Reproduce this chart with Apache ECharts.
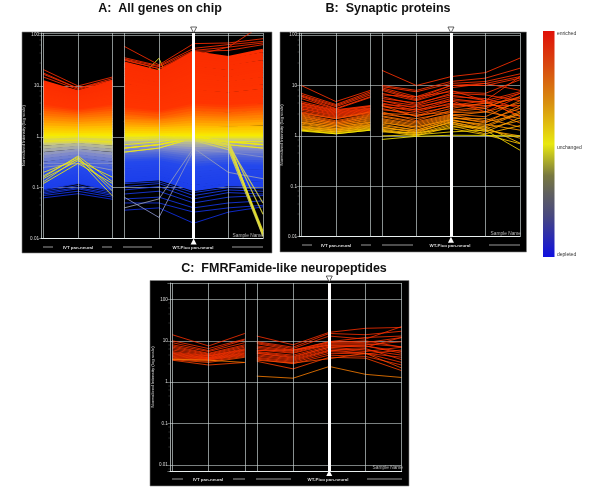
<!DOCTYPE html>
<html><head><meta charset="utf-8">
<style>html,body{margin:0;padding:0;background:#fff}#c{width:600px;height:499px}</style>
<script src="https://cdn.jsdelivr.net/npm/echarts@6/dist/echarts.min.js"></script>
</head><body><div id="c"></div>
<script>
// Sample order along the x axis; slot 6.5 is the break between the two sample groups
const sampleSlots = [0,3,6,7,10,13,16,19];
const markedSample = 13;
const breakSlot = 6.5;
const yTicks = [100,10,1,0.1,0.01];
const sampleGroups = ['IVT pan-neural','WT-Pico pan-neural'];
const yName = 'Normalized Intensity (log scale)';

// A: profiles that peak at one sample; only the peak shows above the band
const genesBehind = [
[1,1,1,7,35,0.95,1,1],[1,1,1,2,22,1.1,1,1]
];
// A: all genes on chip: dense band (one row = one representative expression profile)
const genesBand = [
[12,7.6,12,28,19,45,36,50],[11.6,7.4,11.4,26,17,40,32,43],[11.2,7.2,11,24,15.5,36,30,38],[10.8,7,10.6,21,14.5,32,27,35],
[10.4,6.8,10.2,19,13,29,24,30],[10,6.6,9.8,17,12.5,26,22,27],[9.6,6.4,9.4,15,11,23,19,25],[9.2,6.2,9,14,10.6,21,18,22],
[8.8,6,8.6,13,9.5,19,16,20],[8.4,5.8,8.3,12,8.9,17,14,18],[8,5.6,8,10.5,8.2,15,13,16],[7.7,5.4,7.6,9.5,7.4,13.5,11.5,14],
[7.3,5.2,7.3,8.8,6.8,12,10.5,12.5],[7,5,7,8,6.4,11,9.5,11.5],[6.7,4.8,6.6,7.5,5.8,10,8.8,10],[6.4,4.6,6.3,6.8,5.4,9,8,9.5],
[6.1,4.4,6,6.1,5,8,7,8.3],[5.8,4.2,5.8,5.5,4.6,7.2,6.5,7.4],[5.5,4,5.5,5.1,4.3,6.5,5.8,6.8],[5.2,3.8,5.2,4.6,3.9,5.8,5.2,6],
[4.8,3.6,4.8,4.2,3.6,5.2,4.7,5.4],[4.4,3.4,4.4,3.8,3.3,4.7,4.3,4.9],[4,3.2,4,3.5,3,4.2,3.9,4.3],[3.6,3,3.7,3.2,2.8,3.8,3.5,3.9],
[3.3,2.8,3.3,2.9,2.6,3.4,3.2,3.5],[3,2.6,3,2.6,2.3,3,2.8,3.1],[2.7,2.4,2.7,2.4,2.1,2.7,2.5,2.8],[2.4,2.2,2.4,2.1,2,2.4,2.3,2.5],
[2.2,2,2.2,2,1.85,2.2,2.1,2.2],[1.95,1.8,1.95,1.8,1.7,1.95,1.9,2],[1.75,1.65,1.75,1.64,1.55,1.75,1.7,1.8],[1.55,1.48,1.55,1.47,1.42,1.55,1.5,1.55],
[1.4,1.34,1.4,1.34,1.3,1.4,1.38,1.42],[1.25,1.22,1.25,1.22,1.19,1.25,1.23,1.26],[1.12,1.1,1.12,1.1,1.09,1.12,1.11,1.13],[1.03,1.02,1.03,1.03,1.02,1.03,1.03,1.03],
[0.96,0.97,0.96,0.97,0.97,0.96,0.96,0.96],[0.85,0.9,0.85,0.9,0.9,0.88,0.89,0.89],[0.72,0.8,0.72,0.83,0.84,0.8,0.82,0.81],[0.62,0.7,0.62,0.76,0.77,0.72,0.74,0.73],
[0.54,0.62,0.54,0.7,0.7,0.65,0.68,0.67],[0.46,0.54,0.46,0.63,0.64,0.58,0.61,0.6],[0.4,0.48,0.4,0.58,0.59,0.52,0.55,0.54],[0.35,0.42,0.35,0.53,0.54,0.47,0.5,0.49],
[0.3,0.37,0.3,0.48,0.5,0.42,0.45,0.44],[0.26,0.33,0.26,0.44,0.46,0.38,0.41,0.4],[0.23,0.3,0.23,0.4,0.42,0.34,0.37,0.36],[0.2,0.27,0.2,0.36,0.38,0.3,0.33,0.32],
[0.18,0.25,0.18,0.33,0.35,0.27,0.3,0.29],[0.165,0.23,0.165,0.3,0.32,0.24,0.27,0.26],[0.15,0.21,0.15,0.27,0.29,0.215,0.25,0.24],[0.14,0.2,0.14,0.25,0.26,0.19,0.22,0.21],
[0.13,0.18,0.13,0.22,0.24,0.17,0.2,0.19],[0.125,0.17,0.12,0.2,0.22,0.15,0.18,0.17],[0.12,0.16,0.11,0.19,0.2,0.135,0.16,0.15],[0.115,0.15,0.105,0.17,0.18,0.12,0.145,0.14],
[0.11,0.14,0.1,0.15,0.16,0.105,0.13,0.12],[0.1,0.13,0.095,0.135,0.15,0.092,0.115,0.11]
];
// A: sparse profiles at the edges of the band, and the ones that stand out from it
const genesSparse = [
[0.095,0.125,0.09,0.12,0.13,0.08,0.1,0.095],[0.09,0.12,0.085,0.105,0.12,0.07,0.09,0.085],[0.085,0.11,0.08,0.09,0.105,0.06,0.08,0.075],
[0.08,0.1,0.075,0.075,0.085,0.05,0.065,0.07],[0.075,0.095,0.07,0.06,0.065,0.04,0.05,0.055],[0.07,0.085,0.065,0.05,0.05,0.033,0.04,0.045],
[0.063,0.076,0.059,0.036,0.04,0.02,0.033,0.042],
[21,10,15,60,26,68,70,85],[18,9,14,36,25,55,65,75],[17,9,13,33,22,40,58,160],[15,8.5,13,34,24,50,58,70],[12,8,12,32,22,48,50,65],
[0.3,0.3,0.3,0.065,0.026,0.55,0.5,0.4],[0.25,0.3,0.22,0.04,0.06,0.6,0.2,0.15],
[0.16,0.42,0.13,0.5,0.6,0.95,0.7,0.6],[0.13,0.38,0.1,0.5,0.6,0.95,0.7,0.6],[0.17,0.4,0.085,0.6,0.7,0.95,0.8,0.7],
[0.2,0.36,0.068,0.6,0.7,0.95,0.8,0.7],[0.15,0.34,0.16,0.6,0.7,1,0.8,0.7],[0.12,0.3,0.12,0.7,0.8,1,0.8,0.8]
];
// A: the group that drops steeply at the last sample
const genesFan = [
[0.8,0.85,0.75,0.9,1,0.95,0.78,0.012],[0.85,0.88,0.8,0.92,1,0.9,0.85,0.011],[0.8,0.82,0.78,0.88,0.95,0.92,0.72,0.014],
[0.78,0.8,0.74,0.86,0.9,0.88,0.68,0.012],[0.82,0.84,0.8,0.9,0.95,0.94,0.62,0.013],[0.76,0.8,0.72,0.84,0.9,0.85,0.56,0.011],
[0.78,0.8,0.74,0.86,0.9,0.9,0.8,0.03],[0.76,0.8,0.72,0.84,0.9,0.86,0.7,0.05]
];
// B: synaptic proteins
const synapticRows = [
[10,4.8,8,20,10,15,18,35],[7,4.2,7.5,10,8,12,14,22],[6.5,4,7,9.5,7.5,11,12,17],[6.2,3.8,6.5,9,6,10,11,15],[6,3.5,6,8.5,5.5,10,10,14],
[5.5,3.4,5.8,8,5.2,9,11,8],[4.8,3.3,4,7,5,8,5,15],[4.5,3.2,3.9,6.5,6,7.5,7,13],[4.4,3.1,3.8,6,4.2,7,6.5,5],[4.2,3,3.6,5.5,4.5,6.5,5,7.5],
[4,2.9,3.5,5,4,6,5.5,3.5],[3.9,2.8,3.4,5,3.5,5.5,4.5,7],[3.7,2.7,3.3,4.5,3.2,5,4.8,2.5],[3.5,2.6,3.2,4.2,3.8,5,3,6],[3.4,2.5,3.1,4,3,4.5,3.5,7],
[3.2,2.4,3,3.8,3.3,4.2,4,4],[3,2.3,2.9,3.5,2.5,4,5,2.4],[2.9,2.2,2.8,3.3,2.8,3.8,4.4,5.5],[2.8,2.2,3,4,2.4,3.5,4.5,3],[2.7,2,2.7,3,2,3.2,3.8,6],
[2.6,1.9,2.6,2.8,2.6,3,3.5,1.8],[2.5,1.8,2.5,2.7,2.2,2.9,3,4.5],[2.4,1.8,2.4,2.5,1.9,2.7,2.4,5],[2.3,1.7,2.3,2.4,1.8,2.6,2,3.5],[2.2,1.7,2.2,2.2,1.7,2.5,3,2.2],
[2.1,1.6,2.1,2.1,1.6,2.4,1.8,4],[2,1.6,2,2,1.5,2.3,1.9,2.6],[1.9,1.5,1.9,1.9,1.4,2.2,2.2,1.5],[1.85,1.5,1.85,1.8,1.5,2.1,1.6,3],[1.8,1.4,1.8,1.7,1.3,2.1,1.5,2.8],
[1.7,1.4,1.7,1.6,1.3,2,1.7,1.3],[1.6,1.35,1.65,1.5,1.2,1.9,1.4,2],[1.55,1.3,1.6,1.5,1.15,1.9,1.3,1],[1.5,1.3,1.55,1.4,1.25,1.8,1.2,2.3],[1.45,1.25,1.5,1.35,1.1,1.7,1.35,0.9],
[1.4,1.2,1.45,1.3,1.05,1.6,1.1,1.6],[1.35,1.2,1.4,1.25,1,1.5,1.5,0.72],[1.3,1.15,1.35,1.2,1.15,1.4,1.05,0.7],[1.3,1.1,1.3,1,1.05,1.2,1.3,0.52],[1.25,1.1,1.3,0.85,0.98,1.03,1.02,1]
];
// C: FMRFamide-like neuropeptides
const fmrfRows = [
[14,7.5,15,13,8,16,20,21],[10,6.5,11,9.5,7,15,14,17],[9,5.8,10.5,9,6.5,13,11,22],[8,5.5,9,8.5,6,9.5,12,13],[7.5,5,8,7.5,5.8,9.5,9,12],
[7,4.8,7.5,7,5.5,9,10,7],[6.5,4.6,7,6.5,5.2,8.5,8.5,7.2],[6,4.4,6.5,6,5,8,7.5,5.5],[5.5,4.3,6.2,5.8,6,7.8,8,9.5],[5.2,4.2,6,5.5,4.5,7.5,7,12],
[5,4,5.8,5.3,4.2,7,7.5,5],[4.8,3.9,5.5,5,4,7,6,4.5],[4.6,3.8,5.2,5,3.8,6.5,5.5,7],[4.4,3.7,5,4.6,3.6,6,5,4],[4.2,3.6,4.8,4.3,3.4,5.8,6.5,3.5],
[4,3.5,4.6,4,3.2,5.5,5,3],[3.8,3.4,4.4,3.8,3,5,4.8,6],[3.6,3.2,4.2,3.6,2.8,4.5,4.2,2.6],[3.4,2.6,3,3.2,2.1,4,3.8,1.9],[3.5,3,4,3.4,2.9,3.7,5,2.2],
[3.6,3.4,3,1.4,1.25,2.4,1.55,1.3]
];
// Colour key
const keyColours = ['#e01008','#d84810','#d89010','#e8e810','#787840','#606060','#484880','#1010e0'];
const keyOffsets = [0,0.15,0.32,0.5,0.64,0.72,0.82,1];
const keyLabels = ['enriched','unchanged','depleted'];
// Line colour against value at the marked sample
const lineStopValues = [0.02,0.25,0.38,0.55,0.8,1,1.5,2.5,4.5,200];
const lineStopColours = ['#1030e8','#2448ec','#5068d8','#8890c8','#c8c880','#f6ee00','#ffc000','#ff7a00','#ff3400','#f82800'];

function lineColour(v){
  const i = lineStopValues.findIndex(s => v <= s);
  if (i <= 0) return lineStopColours[0];
  const a = Math.log(lineStopValues[i-1]), b = Math.log(lineStopValues[i]);
  return echarts.color.lerp((Math.log(v)-a)/(b-a), [lineStopColours[i-1], lineStopColours[i]]);
}
const MARK_INDEX = sampleSlots.indexOf(markedSample);

const panels = [
 {title:'A:  All genes on chip', titleX:160, titleY:2, box:[22,32,250,221], grid:[41,33,222,205.5], ymin:0.01, ymax:110, nameGap:15,
  sets:[{rows:genesBehind,width:0.9,opacity:1},{rows:genesBand,width:3.4,opacity:1},{rows:genesSparse,width:0.9,opacity:0.95},{rows:genesFan,width:1.2,opacity:0.85}],
  labelY:248, tipOff:[-3,3], brackets:[[43,53],[102,112],[123,152],[232,263]], groupX:[78,193], sampleName:[263,235.5]},
 {title:'B:  Synaptic proteins', titleX:388, titleY:2, box:[280,32,246.5,220], grid:[299,33,221,203.7], ymin:0.01, ymax:110, nameGap:15,
  sets:[{rows:synapticRows,width:1,opacity:0.85}],
  labelY:246, tipOff:[-3,3], brackets:[[302,312],[361,371],[382,413],[489,520]], groupX:[336,450], sampleName:[521,234]},
 {title:'C:  FMRFamide-like neuropeptides', titleX:284, titleY:262, box:[150,280.5,259,205.5], grid:[169.9,283,231.8,188], ymin:0.0072, ymax:248, nameGap:14,
  sets:[{rows:fmrfRows,width:1,opacity:0.8}],
  labelY:480, tipOff:[-4,2], brackets:[[172,183],[233,245],[256,291],[367,402]], groupX:[208,328], sampleName:[403,468]}
];

const grey = 'rgba(205,215,215,0.75)';
const grids=[],xAxes=[],yAxes=[],series=[],graphics=[],titles=[];
panels.forEach((p,g)=>{
  titles.push({text:p.title,left:p.titleX,top:p.titleY,textAlign:'center',padding:0,
    textStyle:{fontFamily:'"Liberation Sans"',fontWeight:'bold',fontSize:12.5,color:'#111'}});
  graphics.push({type:'rect',z:-10,shape:{x:p.box[0],y:p.box[1],width:p.box[2],height:p.box[3]},
    style:{fill:'#000',stroke:'#888',lineWidth:0.6}});
  grids.push({left:p.grid[0],top:p.grid[1],width:p.grid[2],height:p.grid[3],containLabel:false});
  xAxes.push({gridIndex:g,type:'value',min:-0.2,max:19,axisLabel:{show:false},axisTick:{show:false},splitLine:{show:false},
    axisLine:{onZero:false,lineStyle:{color:'#e8eeee',width:1}}});
  yAxes.push({gridIndex:g,type:'log',logBase:10,min:p.ymin,max:p.ymax,name:yName,nameLocation:'middle',nameGap:p.nameGap,nameRotate:90,
    nameTextStyle:{color:'#ddd',fontSize:4.4,fontFamily:'"Liberation Sans"'},
    axisLine:{onZero:false,lineStyle:{color:grey,width:1}},
    axisTick:{length:2.5,lineStyle:{color:grey,width:0.6}},
    minorTick:{show:true,splitNumber:5,length:1.5,lineStyle:{color:grey,width:0.3}},
    axisLabel:{color:'#ddd',fontSize:4.6,margin:2,fontFamily:'"Liberation Sans"',showMinLabel:true,
      formatter:v=>yTicks.some(t=>Math.abs(Math.log10(v/t))<0.01)?String(yTicks.find(t=>Math.abs(Math.log10(v/t))<0.01)):''},
    splitLine:{show:true,lineStyle:{color:grey,width:0.8}}});
  // sample columns
  series.push({type:'line',xAxisIndex:g,yAxisIndex:g,data:[],z:1,silent:true,
    markLine:{silent:true,symbol:'none',animation:false,label:{show:false},
      lineStyle:{color:grey,width:0.9,type:'solid'},
      data:sampleSlots.filter(s=>s!==markedSample).map(s=>({xAxis:s}))}});
  // gene profiles
  p.sets.forEach(set=>{
    set.rows.forEach(row=>{
      const pts=[];
      row.forEach((v,i)=>{ if(i===3) pts.push([breakSlot,null]); pts.push([sampleSlots[i],v]); });
      series.push({type:'line',xAxisIndex:g,yAxisIndex:g,data:pts,z:2,symbol:'none',silent:true,connectNulls:false,
        lineStyle:{width:set.width,color:lineColour(row[MARK_INDEX]),opacity:set.opacity},animation:false});
    });
  });
  // marked sample
  series.push({type:'line',xAxisIndex:g,yAxisIndex:g,data:[],z:5,silent:true,
    markLine:{silent:true,symbol:'none',animation:false,label:{show:false},
      lineStyle:{color:'#fff',width:3,type:'solid'},data:[{xAxis:markedSample}]},
    markPoint:{silent:true,animation:false,label:{show:false},data:[
      {coord:[markedSample,p.ymax],symbol:'triangle',symbolRotate:180,symbolSize:6,symbolOffset:[0,p.tipOff[0]],
        itemStyle:{color:'#fff',borderColor:'#222',borderWidth:0.7}},
      {coord:[markedSample,p.ymin],symbol:'triangle',symbolSize:6,symbolOffset:[0,p.tipOff[1]],
        itemStyle:{color:'#fff'}}]}});
  // group labels and brackets
  sampleGroups.forEach((t,k)=>{
    graphics.push({type:'text',z:10,style:{text:t,x:p.groupX[k],y:p.labelY,align:'center',verticalAlign:'middle',
      fill:'#ddd',font:'bold 4.4px "Liberation Sans"'}});
  });
  p.brackets.forEach(b=>{
    graphics.push({type:'line',z:10,shape:{x1:b[0],y1:p.labelY-1,x2:b[1],y2:p.labelY-1},style:{stroke:'#ddd',lineWidth:0.7}});
  });
  graphics.push({type:'text',z:10,style:{text:'Sample Name',x:p.sampleName[0],y:p.sampleName[1],align:'right',verticalAlign:'middle',
    fill:'#bbb',font:'4.8px "Liberation Sans"'}});
});
// colour key
graphics.push({type:'rect',shape:{x:543,y:31,width:11.5,height:226},
  style:{fill:new echarts.graphic.LinearGradient(0,0,0,1,keyColours.map((c,i)=>({offset:keyOffsets[i],color:c})))}});
[[34],[148],[255]].forEach((y,i)=>graphics.push({type:'text',style:{text:keyLabels[i],x:557,y:y[0],verticalAlign:'middle',
  fill:'#333',font:'5px "Liberation Sans"'}}));

const chart=echarts.init(document.getElementById('c'),null,{renderer:'canvas',width:600,height:499});
chart.setOption({animation:false,backgroundColor:'#fff',title:titles,grid:grids,xAxis:xAxes,yAxis:yAxes,series:series,graphic:{elements:graphics}});
</script></body></html>
